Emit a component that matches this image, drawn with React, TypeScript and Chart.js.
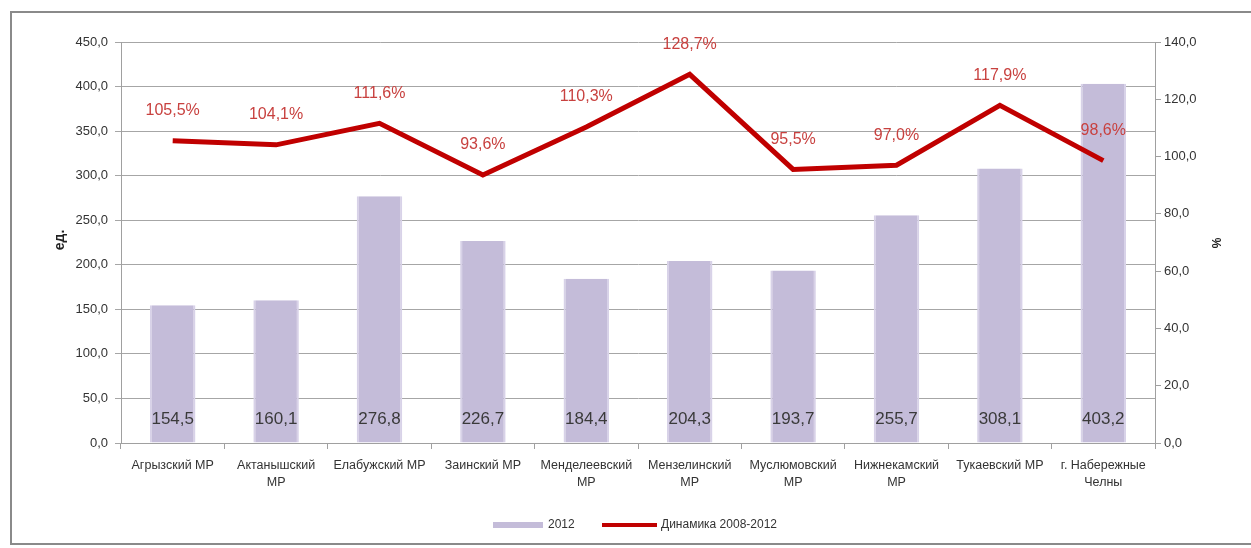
import React, { useEffect, useRef } from "react";
import { Chart, registerables } from "chart.js";

Chart.register(...registerables);

const categories: (string | string[])[] = [
  "Агрызский МР",
  ["Актанышский", "МР"],
  "Елабужский МР",
  "Заинский МР",
  ["Менделеевский", "МР"],
  ["Мензелинский", "МР"],
  ["Муслюмовский", "МР"],
  ["Нижнекамский", "МР"],
  "Тукаевский МР",
  ["г. Набережные", "Челны"],
];
const values2012 = [154.5, 160.1, 276.8, 226.7, 184.4, 204.3, 193.7, 255.7, 308.1, 403.2];
const dynamics = [105.5, 104.1, 111.6, 93.6, 110.3, 128.7, 95.5, 97.0, 117.9, 98.6];
const barLabel = "2012";
const lineLabel = "Динамика 2008-2012";
const leftTitle = "ед.";
const rightTitle = "%";

const FONT = "'Liberation Sans', Arial, sans-serif";
const BAR_COLOR = "#c4bcd9";
const LINE_COLOR = "#c00000";
const fmt = (v: number) => v.toFixed(1).replace(".", ",");

const W = 1251;
const H = 548;
const AREA_LEFT = 121;
const AREA_RIGHT = 1155;
const AREA_TOP = 42;
const AREA_BOTTOM = 443;

const overlay = {
  id: "overlay",
  afterDatasetsDraw(chart: any) {
    const ctx = chart.ctx;
    ctx.save();
    ctx.textAlign = "center";
    ctx.textBaseline = "middle";
    // bar value labels
    const barMeta = chart.getDatasetMeta(1);
    ctx.font = `17px ${FONT}`;
    ctx.fillStyle = "#3a3a3a";
    barMeta.data.forEach((el: any, i: number) => {
      ctx.fillText(fmt(values2012[i]), el.x, el.base - 23);
    });
    // line value labels
    const lineMeta = chart.getDatasetMeta(0);
    ctx.font = `16px ${FONT}`;
    ctx.fillStyle = "#c8413f";
    lineMeta.data.forEach((el: any, i: number) => {
      ctx.fillText(fmt(dynamics[i]) + "%", el.x, el.y - 30);
    });
    ctx.restore();
  },
  afterDraw(chart: any) {
    const ctx = chart.ctx;
    ctx.save();
    // axis titles
    ctx.fillStyle = "#222";
    ctx.textAlign = "center";
    ctx.textBaseline = "middle";
    ctx.save();
    ctx.translate(60, 240);
    ctx.rotate(-Math.PI / 2);
    ctx.font = `bold 14px ${FONT}`;
    ctx.fillText(leftTitle, 0, 0);
    ctx.restore();
    ctx.save();
    ctx.translate(1218, 243);
    ctx.rotate(-Math.PI / 2);
    ctx.font = `bold 12px ${FONT}`;
    ctx.fillText(rightTitle, 0, 0);
    ctx.restore();
    // legend
    const ly = 525;
    ctx.fillStyle = BAR_COLOR;
    ctx.fillRect(493, ly - 3, 50, 6);
    ctx.font = `12px ${FONT}`;
    ctx.fillStyle = "#333";
    ctx.textAlign = "left";
    ctx.fillText(barLabel, 548, ly);
    ctx.strokeStyle = LINE_COLOR;
    ctx.lineWidth = 4;
    ctx.beginPath();
    ctx.moveTo(602, ly);
    ctx.lineTo(657, ly);
    ctx.stroke();
    ctx.fillStyle = "#333";
    ctx.fillText(lineLabel, 661, ly);
    ctx.restore();
  },
};

export default function App() {
  const ref = useRef<HTMLCanvasElement>(null);
  useEffect(() => {
    if (!ref.current) return;
    const chart = new Chart(ref.current, {
      data: {
        labels: categories,
        datasets: [
          {
            type: "line",
            label: lineLabel,
            data: dynamics,
            yAxisID: "y1",
            borderColor: LINE_COLOR,
            backgroundColor: LINE_COLOR,
            borderWidth: 5,
            pointRadius: 0,
            tension: 0,
            order: 0,
          } as any,
          {
            type: "bar",
            label: barLabel,
            data: values2012,
            yAxisID: "y",
            backgroundColor: BAR_COLOR,
            borderColor: "#d8d2e8",
            borderWidth: { left: 2, right: 2, top: 0, bottom: 0 },
            barPercentage: 0.44,
            categoryPercentage: 1,
            order: 1,
          } as any,
        ],
      },
      options: {
        responsive: false,
        animation: false,
        events: [],
        layout: { padding: { top: AREA_TOP, left: 0, right: 0, bottom: 0 } },
        plugins: { legend: { display: false }, tooltip: { enabled: false } },
        scales: {
          x: {
            type: "category",
            grid: {
              offset: true,
              drawOnChartArea: false,
              drawTicks: true,
              tickLength: 6,
              color: "#a0a0a0",
            },
            border: { display: true, color: "#a0a0a0" },
            ticks: {
              autoSkip: false,
              maxRotation: 0,
              minRotation: 0,
              padding: 8,
              color: "#333",
              font: { family: FONT, size: 12.5, lineHeight: 1.35 },
            },
            afterFit(scale: any) {
              scale.height = H - AREA_BOTTOM;
            },
          },
          y: {
            position: "left",
            min: 0,
            max: 450,
            ticks: {
              stepSize: 50,
              padding: 7,
              color: "#333",
              font: { family: FONT, size: 13 },
              callback: (v: any) => fmt(Number(v)),
            },
            grid: { color: "#a6a6a6", tickLength: 6, lineWidth: 1 },
            border: { display: true, color: "#a0a0a0" },
            afterFit(scale: any) {
              scale.width = AREA_LEFT;
            },
          },
          y1: {
            position: "right",
            min: 0,
            max: 140,
            ticks: {
              stepSize: 20,
              padding: 3,
              color: "#333",
              font: { family: FONT, size: 13 },
              callback: (v: any) => fmt(Number(v)),
            },
            grid: { drawOnChartArea: false, tickLength: 6, color: "#a0a0a0" },
            border: { display: true, color: "#a0a0a0" },
            afterFit(scale: any) {
              scale.width = W - AREA_RIGHT;
            },
          },
        },
      } as any,
      plugins: [overlay],
    });
    return () => chart.destroy();
  }, []);
  return (
    <div style={{ position: "fixed", left: 0, top: 0, width: W, height: H, background: "#fff", overflow: "hidden" }}>
      <div
        style={{
          position: "absolute",
          left: 10,
          top: 11,
          width: W,
          height: 534,
          border: "2px solid #8a8a8a",
          boxSizing: "border-box",
        }}
      />
      <canvas ref={ref} width={W} height={H} style={{ position: "absolute", left: 0, top: 0, width: W, height: H }} />
    </div>
  );
}
